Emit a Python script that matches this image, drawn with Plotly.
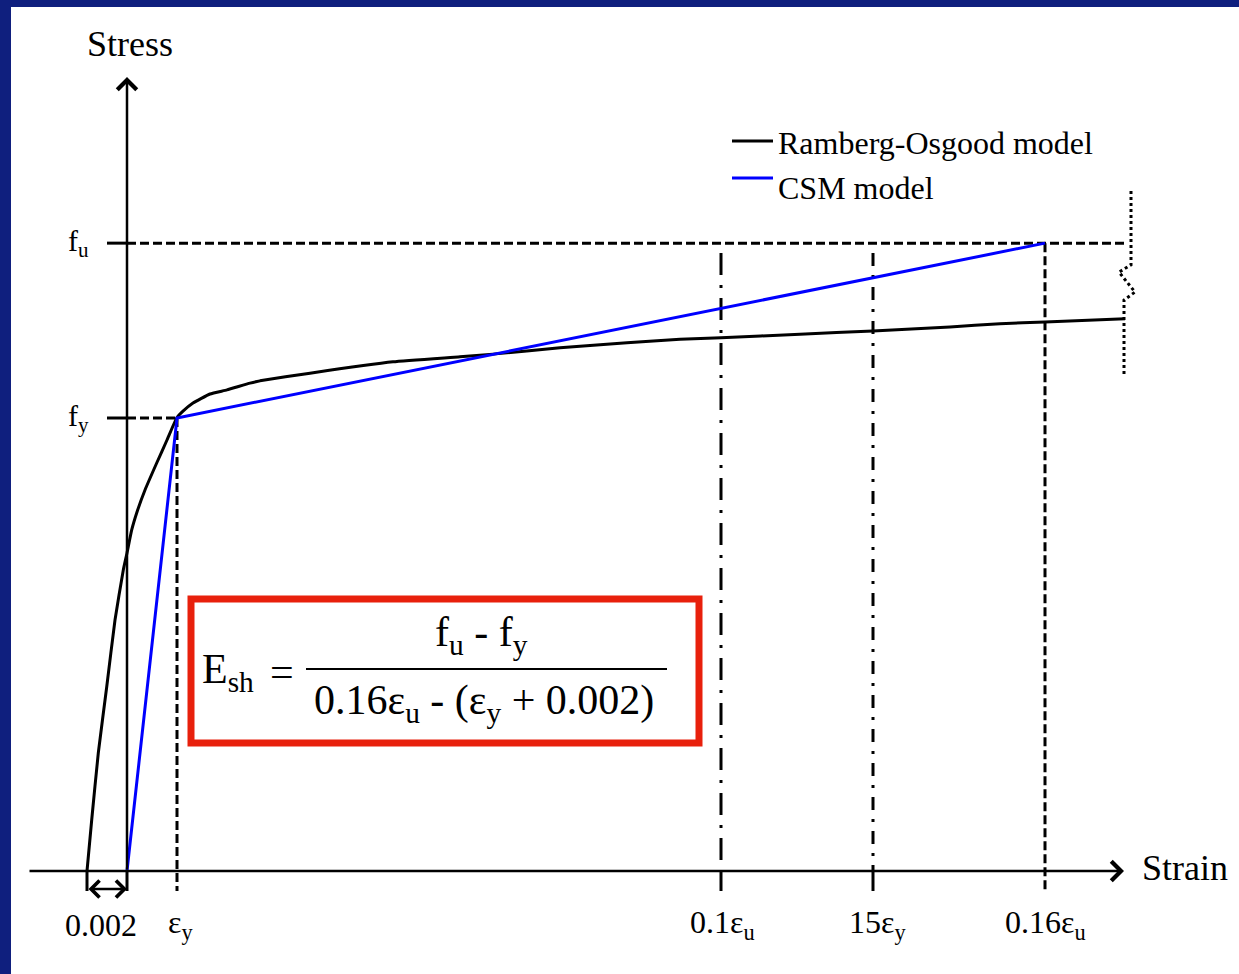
import plotly.graph_objects as go

# ---------------- data ----------------
# strain in units of 0.001, stress in percent of f_y (schematic)
ro_strain = [-2.0, -1.765, -1.435, -1.015, -0.6, -0.185, 0.0, 0.235, 0.5, 0.9, 1.485, 2.0,
             2.485, 2.8, 3.3, 4.15, 5.0, 6.15, 6.65, 9.15, 13.3, 16.65, 18.3, 21.65,
             25.0, 27.65, 29.7, 33.65, 37.3, 41.15, 43.65, 45.9, 49.9]
ro_stress = [0, 11.26, 26.05, 40.62, 55.41, 66.45, 70.2, 75.28, 79.25, 84.11, 90.07, 95.14,
             100, 101.5, 103.3, 105.3, 106.2, 107.7, 108.2, 109.9, 112.4, 113.5, 114.1, 115.5,
             116.6, 117.4, 117.7, 118.5, 119.2, 120.1, 120.8, 121.2, 121.9]
csm_strain = [0, 2.5, 45.9]
csm_stress = [0, 100, 138.6]

OFFSET = -2.0          # 0.002 plastic offset
EPS_Y = 2.5
EPS_01U = 29.7
EPS_15Y = 37.3
EPS_016U = 45.9
FY = 100
FU = 138.6

tick_labels = ["0.002", "ε<sub>y</sub>", "0.1ε<sub>u</sub>", "15ε<sub>y</sub>", "0.16ε<sub>u</sub>"]
tick_label_x = [-1.3, 2.65, 29.75, 37.5, 45.9]
stress_labels = ["f<sub>u</sub>", "f<sub>y</sub>"]
stress_label_y = [FU, FY]

legend_names = ["Ramberg-Osgood model", "CSM model"]

break_x = [50.2, 50.2, 49.6, 50.4, 49.85, 49.85]
break_y = [150.1, 133.8, 132.2, 127.8, 126.05, 109.5]

# geometry helpers (data units)
X_MIN, X_MAX = -6.35, 55.6
Y_MIN, Y_MAX = -22.737, 192.273
AXIS_X_START, AXIS_X_END = -4.95, 49.85
AXIS_Y_END = 175.3
TICK_BOTTOM = -4.42
TICK_LEFT = -1.0
VLINE_TOP = 136.4
FU_LINE_END = 49.95
LABEL_Y = -11.9

FONT = "Liberation Serif, Times New Roman, serif"
BLACK = "#000000"
BLUE = "#0000FF"
RED = "#E8200C"
NAVY = "#0F1F7E"

fig = go.Figure()


def multiseg(pairs, dash="solid", width=3, color=BLACK):
    xs, ys = [], []
    for (xa, xb), (ya, yb) in pairs:
        xs += [xa, xb, None]
        ys += [ya, yb, None]
    fig.add_trace(go.Scatter(x=xs, y=ys, mode="lines", showlegend=False, hoverinfo="skip",
                             connectgaps=False, line=dict(color=color, width=width, dash=dash)))


# dashed reference lines
multiseg([
    ((0, EPS_Y), (FY, FY)),
    ((0, FU_LINE_END), (FU, FU)),
    ((EPS_Y, EPS_Y), (FY, TICK_BOTTOM)),
    ((EPS_016U, EPS_016U), (FU, TICK_BOTTOM)),
], "9px,4px")
# dash-dot reference lines
multiseg([((EPS_01U, EPS_01U), (VLINE_TOP, 0))], "22px,10px,3px,10px")
multiseg([((EPS_15Y, EPS_15Y), (VLINE_TOP, 0))], "13px,9px,3px,9px")
# solid ticks
multiseg([
    ((TICK_LEFT, 0), (FY, FY)),
    ((TICK_LEFT, 0), (FU, FU)),
    ((EPS_01U, EPS_01U), (TICK_BOTTOM, 0)),
    ((EPS_15Y, EPS_15Y), (TICK_BOTTOM, 0)),
    ((OFFSET, OFFSET), (TICK_BOTTOM, 0)),
    ((0, 0), (TICK_BOTTOM, 0)),
])
# break symbol
fig.add_trace(go.Scatter(x=break_x, y=break_y, mode="lines", showlegend=False, hoverinfo="skip",
                         line=dict(color=BLACK, width=3, dash="3px,3px")))

# model curves
fig.add_trace(go.Scatter(x=ro_strain, y=ro_stress, mode="lines", name=legend_names[0],
                         showlegend=False, hoverinfo="skip",
                         line=dict(color=BLACK, width=3, shape="spline", smoothing=0.4)))
fig.add_trace(go.Scatter(x=csm_strain, y=csm_stress, mode="lines", name=legend_names[1],
                         showlegend=False, hoverinfo="skip",
                         line=dict(color=BLUE, width=3)))

ann = []
# axes arrows
ann.append(dict(x=AXIS_X_END, y=0, ax=AXIS_X_START, ay=0, xref="x", yref="y", axref="x", ayref="y",
                text="", showarrow=True, arrowhead=4, arrowsize=1.5, arrowwidth=2.5, arrowcolor=BLACK))
ann.append(dict(x=0, y=AXIS_Y_END, ax=0, ay=0, xref="x", yref="y", axref="x", ayref="y",
                text="", showarrow=True, arrowhead=4, arrowsize=1.5, arrowwidth=2.5, arrowcolor=BLACK))
# 0.002 double arrow
ann.append(dict(x=0, y=-3.97, ax=OFFSET, ay=-3.97, xref="x", yref="y", axref="x", ayref="y",
                text="", showarrow=True, arrowhead=4, startarrowhead=4, arrowside="end+start",
                arrowsize=1.3, startarrowsize=1.3, arrowwidth=2.5, arrowcolor=BLACK))
# axis titles
ann.append(dict(x=0.15, y=182.6, text="Stress", showarrow=False, xanchor="center", yanchor="middle",
                font=dict(family=FONT, size=36, color=BLACK)))
ann.append(dict(x=50.65, y=0.66, text="Strain", showarrow=False, xanchor="left", yanchor="middle",
                font=dict(family=FONT, size=36, color=BLACK)))
# tick labels
for t, xv in zip(tick_labels, tick_label_x):
    ann.append(dict(x=xv, y=LABEL_Y, text=t, showarrow=False, xanchor="center", yanchor="middle",
                    font=dict(family=FONT, size=32, color=BLACK)))
for t, yv in zip(stress_labels, stress_label_y):
    ann.append(dict(x=-2.45, y=yv, text=t, showarrow=False, xanchor="center", yanchor="middle",
                    font=dict(family=FONT, size=30, color=BLACK)))
# legend (drawn manually to match the reference layout)
LEG_X0, LEG_X1, LEG_TEXT_X = 732 / 1239, 773 / 1239, 776 / 1239
leg_line_y = [1 - 141 / 974, 1 - 178 / 974]
leg_text_y = [1 - 143 / 974, 1 - 188 / 974]
leg_colors = [BLACK, BLUE]
for name, ty in zip(legend_names, leg_text_y):
    ann.append(dict(x=LEG_TEXT_X, y=ty, xref="paper", yref="paper", text=name, showarrow=False,
                    xanchor="left", yanchor="middle", font=dict(family=FONT, size=32, color=BLACK)))

# formula
FF = dict(family=FONT, size=42, color=BLACK)
ann.append(dict(x=5.05, y=44.0, text="E<sub>sh</sub>", showarrow=False, xanchor="center", yanchor="middle", font=FF))
ann.append(dict(x=7.75, y=44.0, text="=", showarrow=False, xanchor="center", yanchor="middle", font=FF))
ann.append(dict(x=17.7, y=52.0, text="f<sub>u</sub> - f<sub>y</sub>", showarrow=False, xanchor="center", yanchor="middle", font=FF))
ann.append(dict(x=17.85, y=37.0, text="0.16ε<sub>u</sub> - (ε<sub>y</sub> + 0.002)", showarrow=False, xanchor="center", yanchor="middle", font=FF))

shapes = [
    dict(type="rect", xref="x", yref="y", x0=3.2, x1=28.6, y0=28.26, y1=60.04,
         line=dict(color=RED, width=7), fillcolor="rgba(0,0,0,0)"),
    dict(type="line", xref="x", yref="y", x0=8.95, x1=27.0, y0=44.6, y1=44.6,
         line=dict(color=BLACK, width=2)),
    dict(type="rect", xref="paper", yref="paper", x0=0, x1=11 / 1239, y0=0, y1=1,
         line=dict(width=0), fillcolor=NAVY, layer="above"),
    dict(type="rect", xref="paper", yref="paper", x0=0, x1=1, y0=1 - 7 / 974, y1=1,
         line=dict(width=0), fillcolor=NAVY, layer="above"),
]
for ly, lc in zip(leg_line_y, leg_colors):
    shapes.append(dict(type="line", xref="paper", yref="paper", x0=LEG_X0, x1=LEG_X1, y0=ly, y1=ly,
                       line=dict(color=lc, width=3)))

fig.update_layout(
    width=1239, height=974, autosize=False,
    margin=dict(l=0, r=0, t=0, b=0, pad=0),
    paper_bgcolor="white", plot_bgcolor="white",
    xaxis=dict(range=[X_MIN, X_MAX], visible=False, fixedrange=True),
    yaxis=dict(range=[Y_MIN, Y_MAX], visible=False, fixedrange=True),
    showlegend=False,
    hovermode=False,
    annotations=ann,
    shapes=shapes,
)

fig.write_html("out.html", config={"displayModeBar": False},
               post_script="document.body.style.margin='0';")
